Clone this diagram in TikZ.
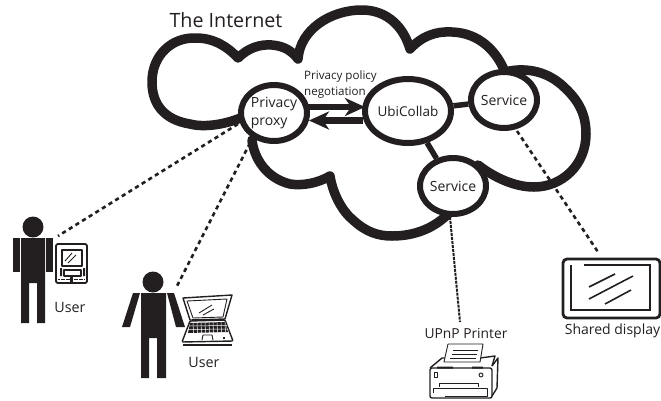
\documentclass[tikz,border=0pt]{standalone}
\usepackage{fontspec}
\setmainfont{Open Sans}
\usetikzlibrary{shapes.geometric,arrows.meta}
\definecolor{ink}{HTML}{231F20}
\tikzset{
  hub/.style={ellipse,draw=ink,line width=6pt,fill=white,inner sep=0pt,text=ink,font=\fontsize{14}{18}\selectfont,align=left},
  lbl/.style={text=ink,inner sep=0pt},
  cloudline/.style={draw=ink,line width=9.5pt,line join=round,line cap=round},
  link/.style={draw=ink,line width=5.5pt},
  flow/.style={draw=ink,line width=6.5pt,-{Stealth[length=20pt,width=18pt,inset=6pt]}},
  dotted link/.style={draw=ink,line width=2.6pt,dash pattern=on 4.2pt off 3.6pt},
  solid ink/.style={fill=ink,draw=none},
  thin ink/.style={draw=ink,line width=.9pt,line join=round},
  mid ink/.style={draw=ink,line width=1.4pt,line join=round}
}
\begin{document}
\begin{tikzpicture}[x=1pt,y=-1pt]
\useasboundingbox (0,0) rectangle (661,400);
% cloud
\path[cloudline]
  (245,116) .. controls (228,124) and (205,128) .. (190,124)
  .. controls (165,120) and (152,105) .. (152,82)
  .. controls (152,55) and (172,37) .. (196,38)
  .. controls (214,38) and (228,47) .. (238,58)
  .. controls (248,48) and (260,44) .. (272,45)
  .. controls (284,46) and (292,51) .. (298,59)
  .. controls (300,30) and (330,10) .. (362,10)
  .. controls (388,10) and (404,28) .. (410,49)
  .. controls (422,36) and (436,31) .. (452,32)
  .. controls (480,33) and (497,52) .. (505,72)
  .. controls (520,68) and (545,68) .. (565,88)
  .. controls (580,102) and (586,116) .. (586,134)
  .. controls (586,165) and (562,187) .. (534,187)
  .. controls (515,187) and (495,178) .. (478,165);
\path[cloudline]
  (252,140) .. controls (254,158) and (266,178) .. (290,184)
  .. controls (303,186) and (318,183) .. (330,176)
  .. controls (333,195) and (343,212) .. (353,220)
  .. controls (366,232) and (378,236) .. (392,236)
  .. controls (415,236) and (435,228) .. (450,212);
% nodes
\node[hub,minimum width=66pt,minimum height=56pt] (proxy) at (274,113) {Privacy\\proxy};
\node[hub,minimum width=84pt,minimum height=64pt] (ubi) at (408,111) {\fontsize{13.5}{16}\selectfont UbiCollab};
\node[hub,minimum width=66pt,minimum height=56pt] (svcA) at (504,100) {Service};
\node[hub,minimum width=66pt,minimum height=56pt] (svcB) at (453,186) {Service};
% links
\draw[link] (ubi) -- (svcA);
\draw[link] (ubi) -- (svcB);
\coordinate (ubiIn) at (365,107);
\coordinate (ubiOut) at (363,120.5);
\coordinate (proxyOut) at (306,107);
\coordinate (proxyIn) at (309,120.5);
\draw[flow] (proxyOut) -- (ubiIn);
\draw[flow] (ubiOut) -- (proxyIn);
% dotted connectors
\coordinate (userA) at (58,236);
\coordinate (userB) at (176,288);
\coordinate (display) at (598,252);
\coordinate (printer) at (460,322);
\coordinate (proxyA) at (238,124);
\coordinate (proxyB) at (250,143);
\coordinate (svcAOut) at (517,131);
\coordinate (svcBOut) at (450,217);
\draw[dotted link] (proxyA) -- (userA);
\draw[dotted link] (proxyB) -- (userB);
\draw[dotted link] (svcAOut) -- (display);
\draw[dotted link,line width=2pt,dash pattern=on 3pt off 1pt] (svcBOut) -- (printer);
% labels
\node[lbl,font=\fontsize{19.7}{22}\selectfont] (internet) at (226,20) {The Internet};
\node[lbl,align=left,font=\fontsize{11.6}{15.5}\selectfont] (nego) at (340.5,84.5) {Privacy policy\\negotiation};
\node[lbl,font=\fontsize{14.3}{16}\selectfont] (u1) at (70,307) {User};
\node[lbl,font=\fontsize{14.3}{16}\selectfont] (u2) at (204,362) {User};
\node[lbl,font=\fontsize{13.8}{16}\selectfont] (p) at (466,333) {UPnP Printer};
\node[lbl,font=\fontsize{14}{16}\selectfont] (d) at (612.5,331) {Shared display};
% person 1
\fill[solid ink] (33,227) circle (10.5);
\fill[solid ink] (21,238) -- (45,238) -- (45,323) -- (37,323) -- (37,283) -- (29,283) -- (29,323) -- (21,323) -- cycle;
\fill[solid ink] (13,238) rectangle (20,272);
\fill[solid ink] (46,238) rectangle (53,272);
% pda
\draw[mid ink,rounded corners=2pt,line width=1.8pt] (56,244) rectangle (87,283);
\draw[mid ink,line width=1.8pt] (62,250) rectangle (82,266);
\draw[thin ink] (65,261) -- (72,253) (68,263) -- (76,255);
\draw[mid ink] (64,270) rectangle (81,276);
\fill[solid ink] (60,268) rectangle (62,276) (83,268) rectangle (85,276);
\draw[line width=1.6pt,ink,dash pattern=on 2pt off .6pt] (58,279.5) -- (85,279.5);
\fill[solid ink] (70,277) rectangle (73,283);
% person 2
\fill[solid ink] (153,282) circle (10.5);
\fill[solid ink] (141,293) -- (166,293) -- (166,378) -- (157,378) -- (157,338) -- (149,338) -- (149,378) -- (141,378) -- cycle;
\fill[solid ink] (133,293) -- (140,293) -- (130,327) -- (122,327) -- cycle;
\fill[solid ink] (167,293) -- (174,293) -- (185,327) -- (176,327) -- cycle;
% laptop
\draw[mid ink] (183,298) -- (232,295) -- (225,319) -- (190,320) -- cycle;
\draw[thin ink] (187,301) -- (227,299) -- (223,317) -- (193,318) -- cycle;
\draw[thin ink] (199,313) -- (212,305) (203,315) -- (214,309);
\draw[mid ink,rounded corners=1pt] (190,321) -- (225,320) -- (233,341) -- (182,342) -- cycle;
\fill[solid ink] (190,323) -- (225,322) -- (228,332) -- (188,333) -- cycle;
\foreach \k in {193,197,...,225}{\draw[white,line width=.5pt] (\k,322) -- (\k+.5,333);}
\draw[white,line width=.5pt] (189,326) -- (227,325.5) (188,329.5) -- (228,329);
\draw[thin ink] (202,340) -- (203,335) -- (212,335) -- (213,340);
\fill[solid ink] (223,337) rectangle (225,339);
\draw[mid ink] (183,345) -- (232,345);
% display
\draw[ink,line width=2.8pt,rounded corners=4pt] (563,259) rectangle (660,318);
\draw[ink,line width=1.2pt] (584,265) -- (650,265) -- (650,310) -- (571,310) -- (571,265);
\draw[ink,line width=1.6pt] (589,287) -- (615,274) (589,299) -- (633,276) (605,304) -- (631,290);
% printer
\draw[mid ink] (430,368) -- (442,358) -- (448,358);
\draw[mid ink] (480,358) -- (495,356) -- (492,366);
\draw[thin ink,fill=white] (448,344) -- (483,344) -- (480,362) -- (444,362) -- cycle;
\draw[thin ink] (453,350) -- (478,350) (452,354) -- (477,354) (450,358) -- (476,358);
\draw[mid ink,rounded corners=2pt] (430,368) rectangle (492,398);
\draw[mid ink] (492,366) -- (498,358) -- (497,388) -- (492,396);
\draw[thin ink] (439,387) -- (439,383) -- (478,383) -- (478,387);
\draw[thin ink] (433,393) -- (433,388) -- (487,388) -- (487,396) -- (445,396);
\fill[solid ink] (437,366.5) rectangle (453,368.5) (472,366.5) rectangle (483,368.5);
\draw[thin ink] (434,372) rectangle (437,377);
\draw[thin ink] (481,375) circle (2);
\end{tikzpicture}
\end{document}
